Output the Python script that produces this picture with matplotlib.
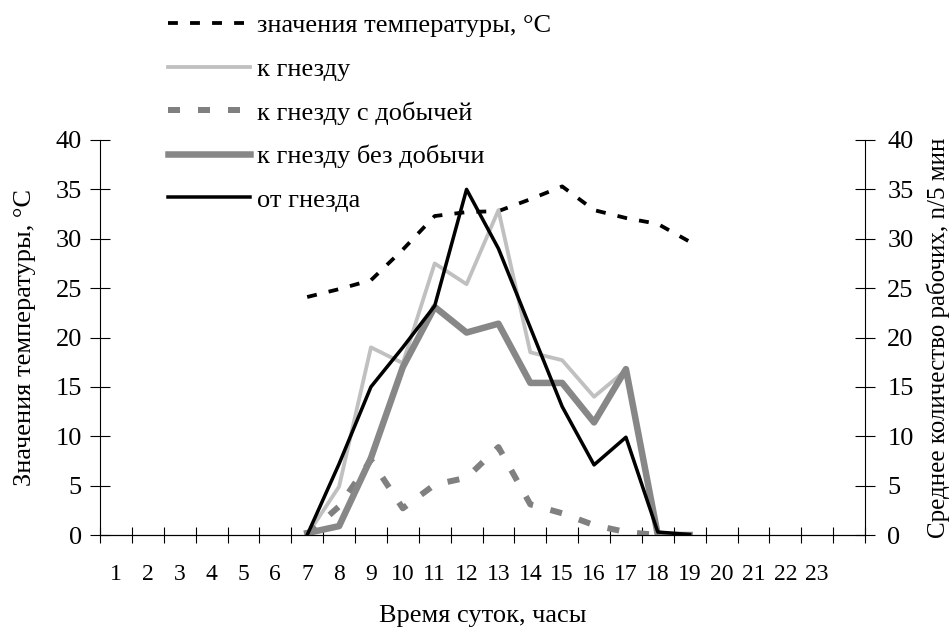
import numpy as np
import matplotlib
matplotlib.use("Agg")
import matplotlib.pyplot as plt

plt.rcParams['font.family'] = ['Liberation Serif', 'DejaVu Serif']
plt.rcParams['font.size'] = 19

# ---- data ----
hours = [str(h) for h in range(1, 24)] + ['']          # 24 categories, last unlabeled
active_hours = list(range(7, 20))                       # 7..19
temperature = [24.1, 24.9, 25.8, 28.9, 32.3, 32.7, 32.8, 34.0, 35.3, 32.9, 32.1, 31.5, 29.7]
to_nest = [0.0, 4.9, 19.0, 17.4, 27.5, 25.4, 32.9, 18.5, 17.7, 14.0, 16.7, 0.0, 0.0]
to_nest_prey = [0.0, 2.9, 7.6, 2.7, 5.1, 5.8, 8.9, 3.1, 2.2, 1.0, 0.3, 0.0, np.nan]
to_nest_noprey = [0.2, 0.9, 7.8, 17.0, 23.1, 20.5, 21.4, 15.4, 15.4, 11.4, 16.8, 0.0, 0.0]
from_nest = [0.0, 7.2, 15.0, 19.0, 23.2, 35.0, 29.0, 21.0, 13.0, 7.1, 9.9, 0.3, 0.05]

labels = ['значения температуры, °C', 'к гнезду', 'к гнезду с добычей',
          'к гнезду без добычи', 'от гнезда']


def full(series):
    arr = np.full(len(hours), np.nan)
    for h, v in zip(active_hours, series):
        arr[h - 1] = v
    return arr


x = np.arange(1, len(hours) + 1)

fig = plt.figure(figsize=(9.51, 6.32), dpi=100)
ax = fig.add_axes([100 / 951, 1 - 535 / 632, 765 / 951, 395 / 632])
ax2 = ax.twinx()

px = 72 / 100  # one pixel in points

l_temp, = ax.plot(x, full(temperature), color='black', lw=3.8 * px,
                  dashes=(2.6, 3.2), label=labels[0], zorder=3)
l_to, = ax2.plot(x, full(to_nest), color='#c0c0c0', lw=3.8 * px,
                 label=labels[1], zorder=2)
l_prey, = ax2.plot(x, full(to_nest_prey), color='#808080', lw=6 * px,
                   dashes=(2.0, 3.0), label=labels[2], zorder=2)
l_noprey, = ax2.plot(x, full(to_nest_noprey), color='#878787', lw=6.5 * px,
                     label=labels[3], zorder=2)
l_from, = ax2.plot(x, full(from_nest), color='black', lw=3.5 * px,
                   label=labels[4], zorder=4)

for a in (ax, ax2):
    a.set_xlim(0.5, len(hours) + 0.5)
    a.set_ylim(0, 40)
    a.set_yticks(np.arange(0, 41, 5))
    a.spines['top'].set_visible(False)
    for s in ('left', 'right', 'bottom'):
        a.spines[s].set_linewidth(0.8)
    a.tick_params(axis='y', direction='inout', length=14, width=0.8, pad=6)

ax.set_facecolor('none')
ax.spines['right'].set_visible(False)
ax2.spines['left'].set_visible(False)
ax2.tick_params(axis='y', pad=9)

# x axis: tick marks at category boundaries, labels at centers
ax.set_xticks(np.arange(0.5, len(hours) + 1, 1.0))
ax.set_xticklabels([])
ax.set_xticks(x, minor=True)
ax.set_xticklabels(hours, minor=True)
ax.tick_params(axis='x', which='major', direction='inout', length=12, width=0.8)
ax.tick_params(axis='x', which='minor', length=0, pad=21, labelsize=17)

ax.set_xlabel('Время суток, часы', labelpad=14)
ax.set_ylabel('Значения температуры, °C', labelpad=14)
ax2.set_ylabel('Среднее количество рабочих, n/5 мин', labelpad=9, fontsize=18)

handles = [l_temp, l_to, l_prey, l_noprey, l_from]
fig.legend(handles, labels, loc='upper left',
           bbox_to_anchor=(168 / 951, 1 - 14 / 632), frameon=False,
           borderpad=0, borderaxespad=0, handlelength=3.1, handletextpad=0.27,
           labelspacing=0.76, fontsize=19)

fig.savefig('out.png', dpi=100)
